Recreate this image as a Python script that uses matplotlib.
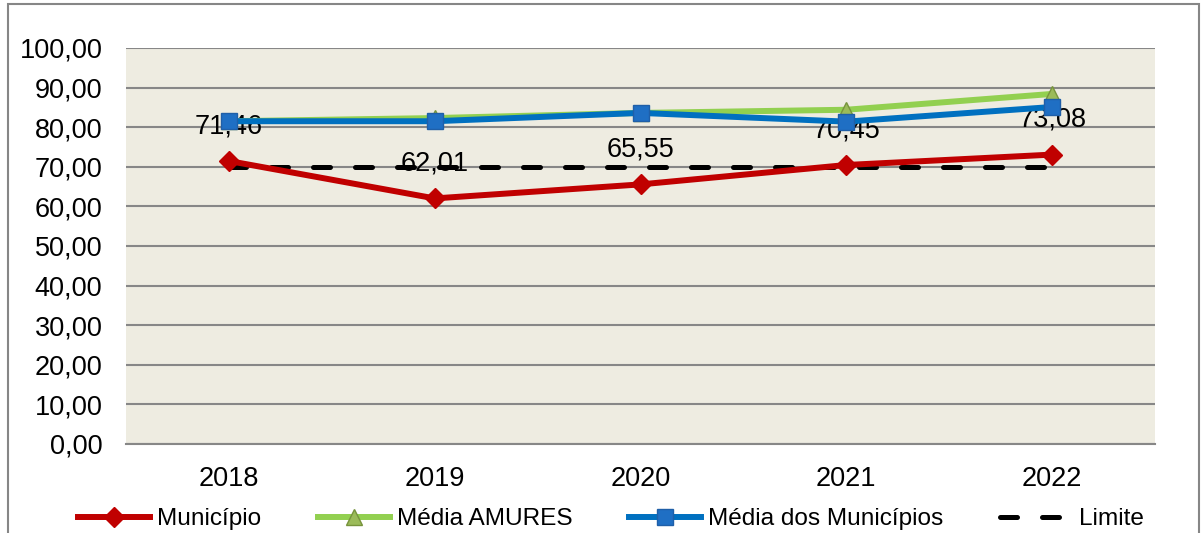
import matplotlib.pyplot as plt
from matplotlib.patches import Rectangle

plt.rcParams['font.family'] = ['Liberation Sans', 'DejaVu Sans']

# Dados
anos = ['2018', '2019', '2020', '2021', '2022']
municipio = [71.46, 62.01, 65.55, 70.45, 73.08]
media_amures = [81.5, 82.3, 83.6, 84.4, 88.4]
media_municipios = [81.5, 81.5, 83.6, 81.4, 85.1]
limite = [70, 70, 70, 70, 70]
y_ticks = [0, 10, 20, 30, 40, 50, 60, 70, 80, 90, 100]

fs = 19.5       # rótulos dos eixos e dos dados
fs_leg = 17.6   # legenda
x = list(range(len(anos)))

fig = plt.figure(figsize=(12.03, 5.33), dpi=100)
ax = fig.add_axes([0.1047, 0.167, 0.8555, 0.743])
ax.set_facecolor('#EEECE1')

# Moldura externa
fig.patches.append(Rectangle((0.0066, -0.2), 0.9901, 1.1925, transform=fig.transFigure,
                             fill=False, edgecolor='#868686', linewidth=1.5, zorder=0))

ax.plot(x, limite, color='black', linewidth=3.6, dashes=(3.4, 5), dash_capstyle='round',
        label='Limite', zorder=3)
ax.plot(x, media_amures, color='#92D050', linewidth=4.3, marker='^', markersize=11,
        markerfacecolor='#9BBB59', markeredgecolor='#77933C', markeredgewidth=1,
        label='Média AMURES', zorder=4)
ax.plot(x, media_municipios, color='#0070C0', linewidth=4.3, marker='s', markersize=11,
        markerfacecolor='#1F6FC4', markeredgecolor='#1F5FA8', markeredgewidth=1,
        label='Média dos Municípios', zorder=5)
ax.plot(x, municipio, color='#C00000', linewidth=4.3, marker='D', markersize=10,
        markerfacecolor='#C00000', markeredgecolor='#C00000',
        label='Município', zorder=6)

# Rótulos de dados (ficam por baixo das linhas, como no original)
for xi, v in zip(x, municipio):
    ax.annotate(f'{v:.2f}'.replace('.', ','), (xi, v), textcoords='offset points',
                xytext=(0, 25), ha='center', va='center', fontsize=fs, zorder=2.5)

ax.set_xlim(-0.5, len(anos) - 0.5)
ax.set_ylim(0, 100)
ax.set_xticks(x)
ax.set_xticklabels(anos)
ax.set_yticks(y_ticks)
ax.set_yticklabels([f'{v:.2f}'.replace('.', ',') for v in y_ticks])
ax.tick_params(axis='both', length=0, labelsize=fs)
ax.tick_params(axis='x', pad=16)
ax.tick_params(axis='y', pad=17)
ax.grid(axis='y', color='#878787', linewidth=1.5)
ax.set_axisbelow(True)
for s in ['left', 'right', 'top']:
    ax.spines[s].set_visible(False)
ax.spines['bottom'].set_color('#878787')
ax.spines['bottom'].set_linewidth(1.5)

handles, labels = ax.get_legend_handles_labels()
order = [3, 1, 2, 0]
fig.legend([handles[i] for i in order], [labels[i] for i in order], loc='center',
           bbox_to_anchor=(0.508, 0.026), ncol=4, frameon=False, fontsize=fs_leg,
           handlelength=2.95, handletextpad=0.3, columnspacing=2.3)

fig.savefig('out.png', dpi=100)
